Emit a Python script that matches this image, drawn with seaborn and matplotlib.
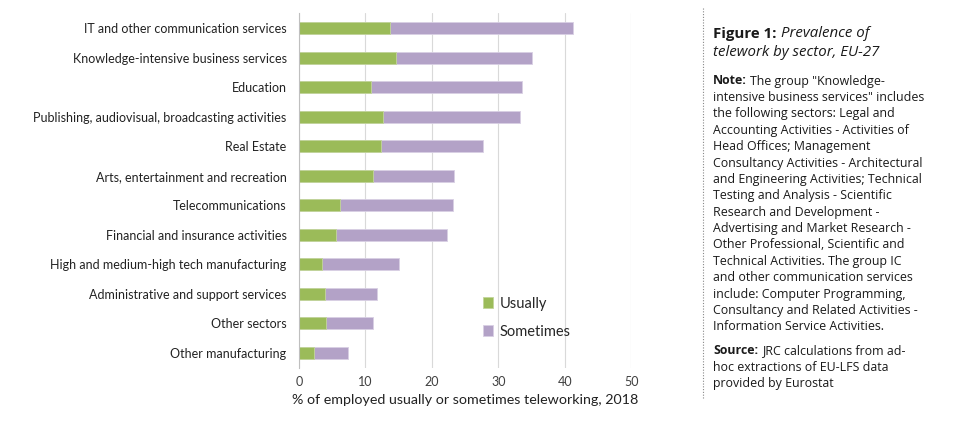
import matplotlib
matplotlib.use("Agg")
import matplotlib.pyplot as plt
import seaborn as sns
import pandas as pd
import numpy as np

sectors = [
    "IT and other communication services",
    "Knowledge-intensive business services",
    "Education",
    "Publishing, audiovisual, broadcasting activities",
    "Real Estate",
    "Arts, entertainment and recreation",
    "Telecommunications",
    "Financial and insurance activities",
    "High and medium-high tech manufacturing",
    "Administrative and support services",
    "Other sectors",
    "Other manufacturing",
]
usually = [13.7, 14.6, 10.8, 12.7, 12.3, 11.1, 6.2, 5.5, 3.4, 3.9, 4.0, 2.2]
sometimes = [27.5, 20.5, 22.7, 20.6, 15.4, 12.2, 17.0, 16.8, 11.6, 7.9, 7.1, 5.1]
xticks = [0, 10, 20, 30, 40, 50]

GREEN = "#9BBB59"
PURPLE = "#B3A2C7"

sns.set_theme(style="white")
plt.rcParams["font.family"] = ["Lato", "DejaVu Sans"]

df = pd.DataFrame({"sector": sectors, "usually": usually, "sometimes": sometimes})
df["total"] = df["usually"] + df["sometimes"]

fig = plt.figure(figsize=(9.6, 4.33), dpi=100)
ax = fig.add_axes([0.3115, 0.151, 0.346, 0.818])

sns.barplot(data=df, y="sector", x="total", color=PURPLE, width=0.4,
            saturation=1, ax=ax, label="Sometimes", edgecolor="#d8cfe4", linewidth=0.6)
sns.barplot(data=df, y="sector", x="usually", color=GREEN, width=0.4,
            saturation=1, ax=ax, label="Usually", edgecolor="#c3d69b", linewidth=0.6)

ax.set_xlim(0, 50)
ax.set_xticks(xticks)
ax.set_xticklabels([str(t) for t in xticks], fontsize=9, color="#404040")
ax.tick_params(axis="x", length=0, pad=6)
ax.set_xlabel("% of employed usually or sometimes teleworking, 2018", fontsize=10.3,
              color="#222222", labelpad=4)
ax.set_ylabel("")
ax.tick_params(axis="y", length=0, pad=9, labelsize=9, labelcolor="#222222")
n = len(sectors)
ax.set_yticks(np.arange(-0.5, n, 1.0), minor=True)
ax.tick_params(axis="y", which="minor", length=4, color="#BFBFBF", width=0.8)
ax.set_ylim(n - 0.5, -0.5)

ax.grid(axis="x", color="#D9D9D9", linewidth=0.8)
ax.set_axisbelow(True)
for s in ["top", "right", "bottom"]:
    ax.spines[s].set_visible(False)
ax.spines["left"].set_color("#BFBFBF")
ax.spines["left"].set_linewidth(0.8)

h, l = ax.get_legend_handles_labels()
order = [l.index("Usually"), l.index("Sometimes")]
ax.legend([h[i] for i in order], [l[i] for i in order], frameon=False,
          fontsize=10.5, loc="lower left", bbox_to_anchor=(0.515, 0.045),
          handlelength=0.7, handleheight=0.7, handletextpad=0.4, labelspacing=0.95)

# Right-hand text panel
fig.add_artist(plt.Line2D([703 / 960, 703 / 960], [1 - 8 / 433, 1 - 398 / 433],
                          transform=fig.transFigure, color="#888888",
                          linestyle=(0, (1, 1.5)), linewidth=0.8))

tx = 713 / 960
tfont = ["Open Sans", "DejaVu Sans"]

def fy(py):
    return 1 - py / 433

def add_after(prev, text, **kw):
    a = plt.annotate(text, xy=(1, 0), xycoords=prev, va="bottom",
                     annotation_clip=False, **kw)
    a.remove()
    fig.add_artist(a)
    return a

tfs = 10.8
t1 = fig.text(tx, fy(34), "Figure 1:", fontsize=tfs, fontweight="bold",
              family=tfont, va="center", color="#1a1a1a")
add_after(t1, "Prevalence of", fontsize=tfs, style="italic", family=tfont,
          color="#1a1a1a", xytext=(3, 0), textcoords="offset points")
fig.text(tx, fy(53), "telework by sector, EU-27", fontsize=tfs, style="italic",
         family=tfont, va="center", color="#1a1a1a")

note_lines = [
    "intensive business services\" includes",
    "the following sectors: Legal and",
    "Accounting Activities - Activities of",
    "Head Offices; Management",
    "Consultancy Activities - Architectural",
    "and Engineering Activities; Technical",
    "Testing and Analysis - Scientific",
    "Research and Development -",
    "Advertising and Market Research -",
    "Other Professional, Scientific and",
    "Technical Activities. The group IC",
    "and other communication services",
    "include: Computer Programming,",
    "Consultancy and Related Activities -",
    "Information Service Activities.",
]
fs = 8.9
step = 16.4
t2 = fig.text(tx, fy(81), "Note:", fontsize=fs, fontweight="bold", family=tfont,
              va="center", color="#1a1a1a")
add_after(t2, "The group \"Knowledge-", fontsize=fs, family=tfont, color="#1a1a1a",
          xytext=(2.5, 0), textcoords="offset points")
for i, line in enumerate(note_lines):
    fig.text(tx, fy(81 + step * (i + 1)), line, fontsize=fs, family=tfont,
             va="center", color="#1a1a1a")

t3 = fig.text(tx, fy(351), "Source:", fontsize=fs, fontweight="bold", family=tfont,
              va="center", color="#1a1a1a")
add_after(t3, "JRC calculations from ad-", fontsize=fs, family=tfont, color="#1a1a1a",
          xytext=(2.5, 0), textcoords="offset points")
fig.text(tx, fy(351 + step), "hoc extractions of EU-LFS data", fontsize=fs,
         family=tfont, va="center", color="#1a1a1a")
fig.text(tx, fy(351 + 2 * step), "provided by Eurostat", fontsize=fs,
         family=tfont, va="center", color="#1a1a1a")

fig.savefig("out.png", dpi=100)
